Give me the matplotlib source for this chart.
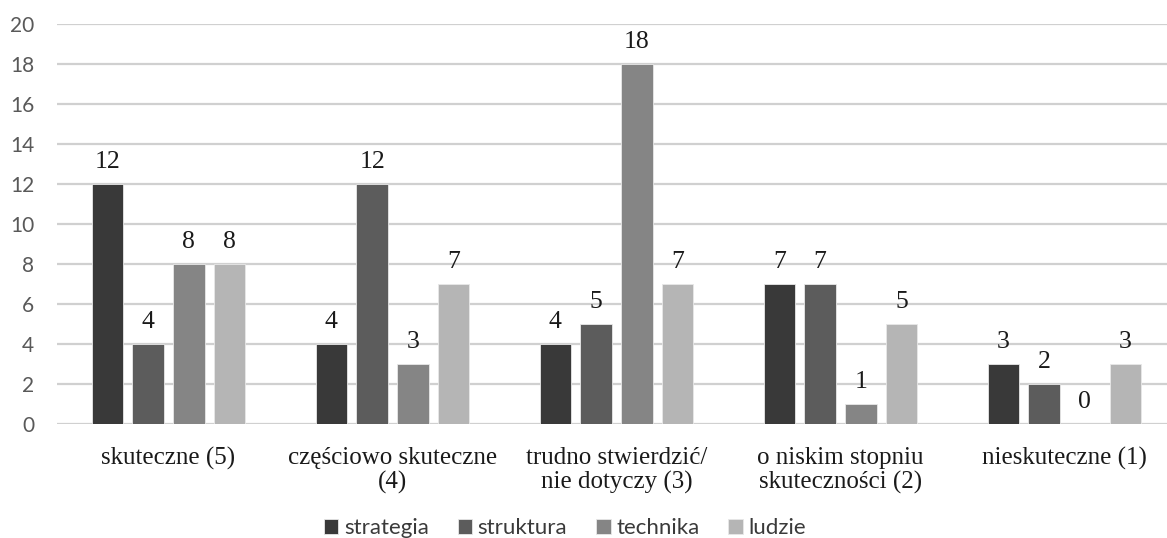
import matplotlib.pyplot as plt
import numpy as np

categories = ['skuteczne (5)', 'częściowo skuteczne\n(4)', 'trudno stwierdzić/\nnie dotyczy (3)',
              'o niskim stopniu\nskuteczności (2)', 'nieskuteczne (1)']
series = ['strategia', 'struktura', 'technika', 'ludzie']
strategia = [12, 4, 4, 7, 3]
struktura = [4, 12, 5, 7, 2]
technika = [8, 3, 18, 1, 0]
ludzie = [8, 7, 7, 5, 3]
colors = ['#393939', '#5c5c5c', '#858585', '#b5b5b5']

fig = plt.figure(figsize=(11.67, 5.38), dpi=100)
ax = fig.add_axes([56.5 / 1167, 0.2125, 1120 / 1167, 0.9548 - 0.2125])

x = np.arange(len(categories))
width = 0.14
pitch = 0.182
for i, (name, vals) in enumerate(zip(series, [strategia, struktura, technika, ludzie])):
    pos = x + (i - 1.5) * pitch
    bars = ax.bar(pos, vals, width, color=colors[i], label=name, zorder=3,
                  edgecolor='#e8e8e8', linewidth=0.6)
    for b, v in zip(bars, vals):
        ax.annotate(str(v), (b.get_x() + b.get_width() / 2, v), xytext=(0, 8),
                    textcoords='offset points', ha='center', va='bottom',
                    fontsize=18.5, family='Liberation Serif', color='#1a1a1a')

ax.set_xlim(-0.5, len(categories) - 0.5)
ax.set_ylim(0, 20)
ax.set_yticks(range(0, 21, 2))
ax.yaxis.grid(True, color='#d0d0d0', linewidth=1.6, zorder=0)
ax.set_axisbelow(True)
for s in ax.spines.values():
    s.set_visible(False)
ax.tick_params(axis='both', length=0)
ax.tick_params(axis='y', pad=16, labelsize=15, labelcolor='#595959')
for lab in ax.get_yticklabels():
    lab.set_family('Lato')
ax.set_xticks(x)
ax.set_xticklabels(categories, fontsize=18, family='Liberation Serif', color='#1a1a1a',
                   linespacing=1.1)
ax.tick_params(axis='x', pad=17)

leg = fig.legend(loc='lower center', bbox_to_anchor=(0.484, -0.037), ncol=4, frameon=False,
                 prop={'family': 'Lato', 'size': 16}, handlelength=0.65, handleheight=0.65,
                 handletextpad=0.25, columnspacing=1.3)
for t in leg.get_texts():
    t.set_color('#3a3a3a')

fig.savefig('out.png', dpi=100)
